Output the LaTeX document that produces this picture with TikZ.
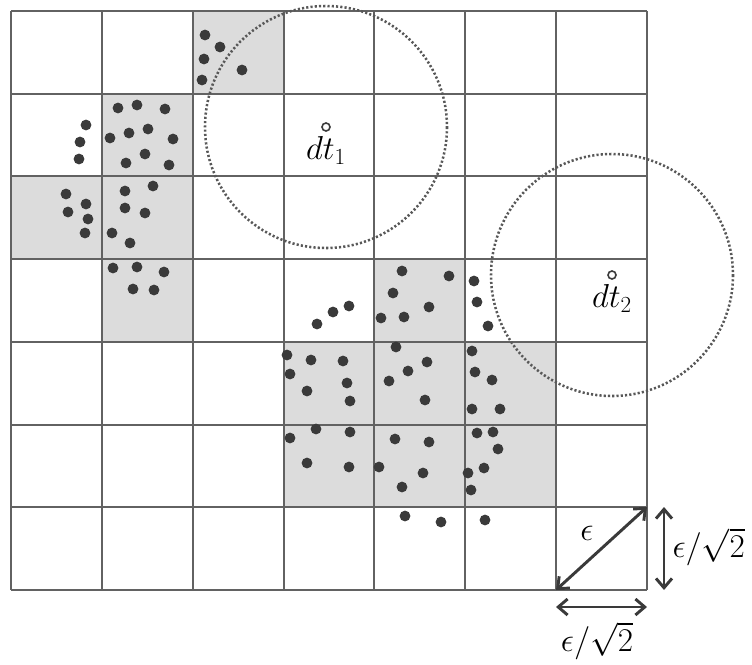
\documentclass[tikz,border=0pt]{standalone}
\usepackage{xcolor}
\usepackage{amsmath, amssymb}
\usepackage{tikz}
\usetikzlibrary{arrows.meta, positioning, calc}

\definecolor{gridgray}{HTML}{626262}
\definecolor{cellgray}{HTML}{DCDCDC}
\definecolor{dotgray}{HTML}{3A3A3A}

\tikzset{
  gridline/.style={draw=gridgray, line width=1.5pt},
  cellfill/.style={fill=cellgray},
  point/.style={fill=dotgray},
  searchring/.style={draw=dotgray!85!white, line width=1.9pt, dash pattern=on 1.6pt off 1.6pt},
  centre/.style={circle, draw=dotgray, line width=1.2pt, inner sep=0pt, minimum size=6pt},
  measure/.style={draw=dotgray, line width=2.2pt, {Straight Barb[length=7pt,width=12pt]}-{Straight Barb[length=7pt,width=12pt]}},
  lbl/.style={font=\fontsize{23pt}{27pt}\selectfont, inner sep=1pt}
}

\begin{document}
\begin{tikzpicture}[x=0.75pt, y=-0.75pt]
\useasboundingbox (0,0) rectangle (752,664);

% shaded cells
\foreach \c/\r in {2/0,1/1,0/2,1/2,1/3,4/3,3/4,4/4,5/4,3/5,4/5,5/5}
  \fill[cellfill] ({11+\c*90.86},{11+\r*82.71}) rectangle ++(90.86,82.71);

% grid
\foreach \i in {0,...,7} {
  \draw[gridline] ({11+\i*90.86},11) -- ({11+\i*90.86},590);
  \draw[gridline] (11,{11+\i*82.71}) -- (647,{11+\i*82.71});
}

% data points
\foreach \p in {(205,35),(220,47),(204,59),(242,70),(202,80),
  (118,108),(137,105),(165,109),(110,138),(129,133),(148,129),(173,139),(145,154),(126,163),(169,165),
  (86,125),(80,142),(79,159),
  (66,194),(86,204),(68,212),(88,219),(85,233),
  (125,191),(153,186),(125,208),(145,213),(112,233),(130,243),
  (113,268),(137,267),(164,272),(133,289),(154,290),
  (317,324),(333,312),(349,306),
  (402,271),(449,276),(393,293),(429,307),(381,318),(404,317),
  (474,281),(477,302),(488,326),
  (287,355),(311,360),(343,361),(290,374),(347,383),(307,391),(350,401),
  (396,347),(427,362),(408,371),(389,381),(425,400),
  (472,351),(475,372),(492,380),(472,409),(500,409),
  (290,438),(316,429),(350,432),(307,463),(349,467),
  (395,439),(429,442),(379,467),(423,473),(402,487),
  (477,433),(493,432),(498,449),(484,468),(468,473),(471,490),
  (405,516),(441,522),(485,520)}
  \fill[point] \p circle (5.4);

% query points and their ranges
\node[centre] (t1) at (326,127) {};
\node[lbl, below=2pt of t1] (t1lbl) {$dt_1$};
\draw[searchring] (t1) circle (121);

\node[centre] (t2) at (612,275) {};
\node[lbl, below=2pt of t2] (t2lbl) {$dt_2$};
\draw[searchring] (t2) circle (121);

% cell size
\coordinate (eA) at (556,590);
\coordinate (eB) at (647,507);
\coordinate (vA) at (664,507);
\coordinate (vB) at (664,590);
\coordinate (hA) at (556,607);
\coordinate (hB) at (647,607);
\draw[measure] (eA) -- (eB);
\draw[measure] (vA) -- (vB);
\draw[measure] (hA) -- (hB);

\node[lbl] (eps) at (587,533) {$\epsilon$};
\node[lbl, anchor=west] (epsv) at (671,547) {$\epsilon/\sqrt{2}$};
\node[lbl] (epsh) at (597,641) {$\epsilon/\sqrt{2}$};
\end{tikzpicture}
\end{document}
